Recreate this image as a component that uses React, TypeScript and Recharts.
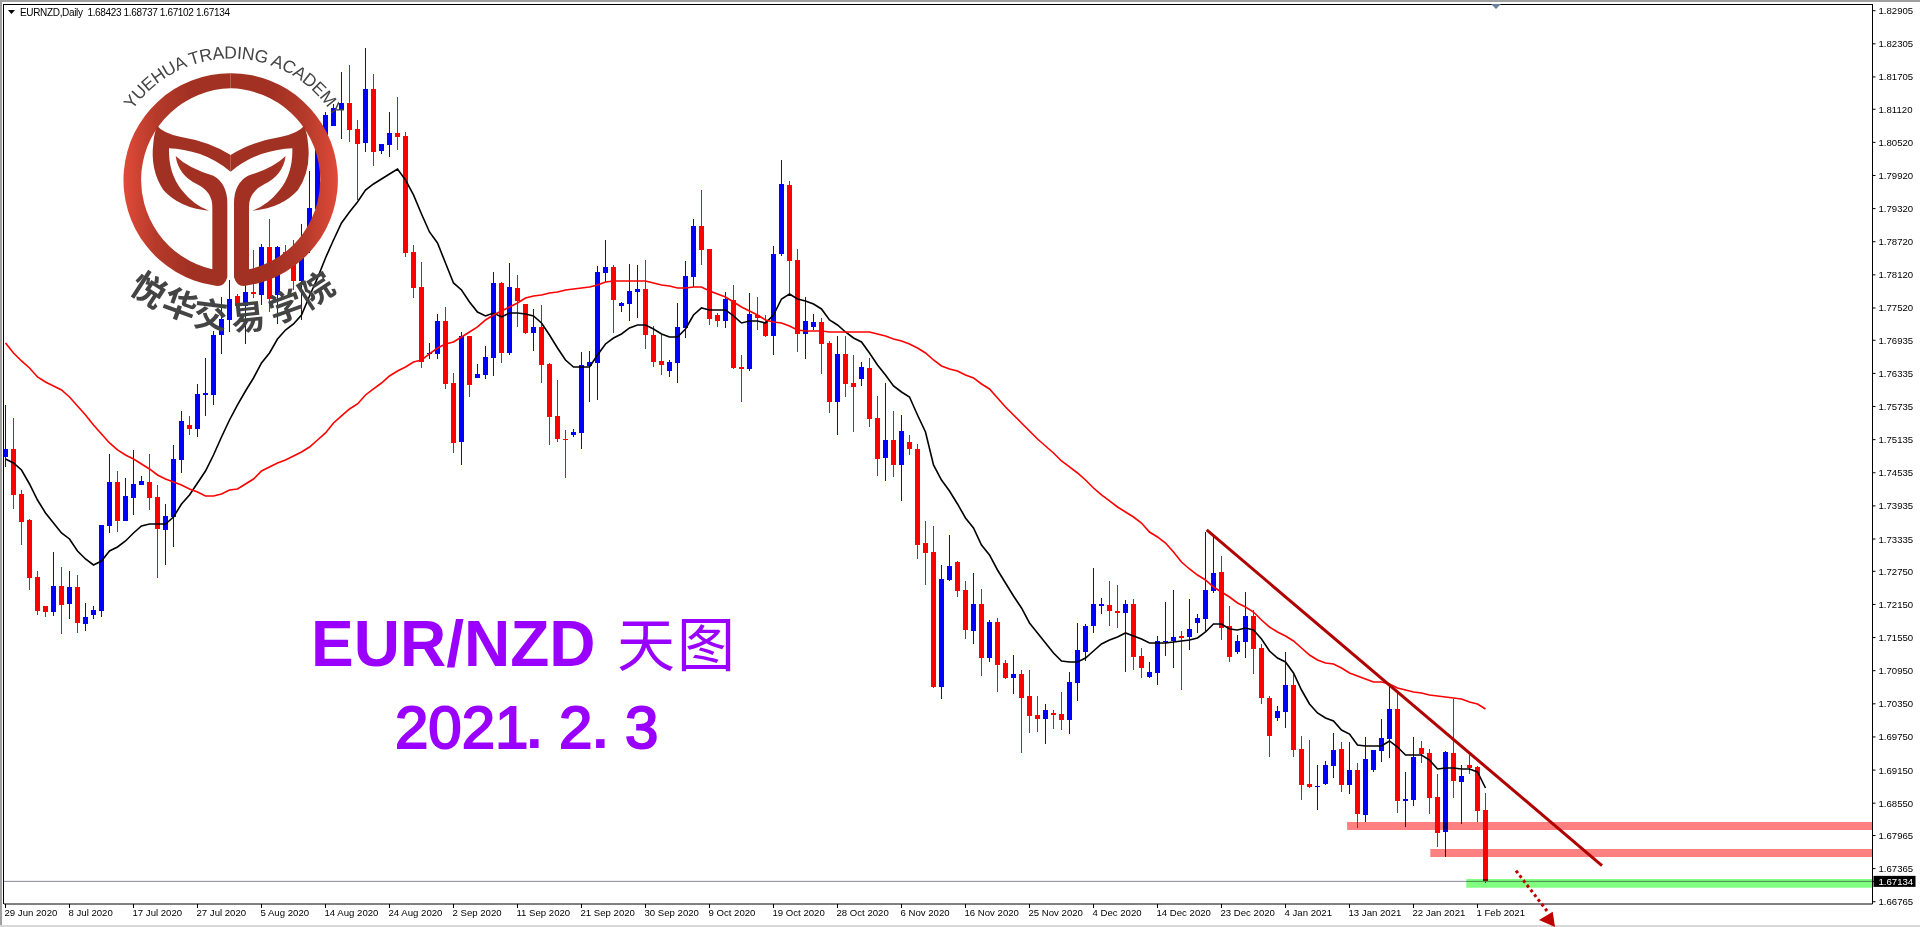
import React from "react";
import { ComposedChart, Bar, Line, XAxis, YAxis, ReferenceLine, ReferenceArea } from "recharts";

const opens = [
1.74821,1.74966,1.74151,1.73680,1.72647,1.72122,1.72013,1.72484,1.72158,1.72466,
1.71796,1.71959,1.72031,1.73571,1.74368,1.73662,1.74078,1.74314,1.74368,1.74096,
1.73499,1.73734,1.74767,1.75401,1.75328,1.75944,1.75944,1.77031,1.77303,1.77737,
1.77556,1.77810,1.77755,1.78625,1.77755,1.78534,1.78534,1.78009,1.78987,1.79313,
1.80654,1.80817,1.81106,1.81233,1.80762,1.80509,1.81487,1.80364,1.80472,1.80690,
1.80635,1.78534,1.77900,1.76687,1.76687,1.77284,1.76161,1.75093,1.77013,1.76252,
1.76306,1.76614,1.77973,1.76705,1.77882,1.77592,1.77067,1.77176,1.76506,1.75564,
1.75147,1.75219,1.75256,1.76469,1.76524,1.78154,1.78263,1.77556,1.77592,1.77810,
1.77864,1.77031,1.76560,1.76379,1.76524,1.77158,1.78081,1.79005,1.78589,1.77393,
1.77284,1.77665,1.76451,1.76415,1.77393,1.77266,1.77013,1.78498,1.79748,1.78389,
1.77049,1.77176,1.77266,1.76886,1.75817,1.76687,1.76161,1.76234,1.76433,1.75527,
1.74803,1.75129,1.74676,1.75093,1.74966,1.73263,1.73100,1.70655,1.72593,1.72919,
1.72412,1.71669,1.72158,1.71180,1.71832,1.71089,1.70818,1.70890,1.70492,1.70147,
1.70075,1.70184,1.70166,1.70057,1.70727,1.71289,1.71760,1.72122,1.72140,1.72031,
1.71995,1.72158,1.71216,1.70836,1.70908,1.71470,1.71488,1.71579,1.71560,1.71814,
1.71886,1.72394,1.72738,1.71760,1.71289,1.71470,1.71941,1.71361,1.70455,1.70093,
1.70202,1.70691,1.69532,1.68898,1.68843,1.68898,1.69224,1.69532,1.68880,1.69151,
1.68336,1.69151,1.69495,1.69713,1.70256,1.68590,1.68608,1.69550,1.69459,1.68662,
1.68028,1.69459,1.68934,1.69242,1.69206,1.68423];

const highs = [
1.75763,1.75527,1.74223,1.73698,1.72756,1.72122,1.73100,1.72828,1.72756,1.72683,
1.72176,1.72122,1.73589,1.74875,1.74567,1.74441,1.74948,1.74477,1.74875,1.74314,
1.73970,1.75038,1.75654,1.75564,1.76143,1.76614,1.77103,1.77719,1.78027,1.77773,
1.77937,1.78570,1.78679,1.79132,1.78643,1.78661,1.78752,1.79041,1.80002,1.80563,
1.81070,1.81215,1.81795,1.81922,1.80925,1.82230,1.81759,1.80491,1.81070,1.81342,
1.80708,1.78661,1.78353,1.76886,1.77411,1.77538,1.76342,1.77085,1.77013,1.76506,
1.76832,1.78172,1.77991,1.78335,1.78118,1.77592,1.77502,1.77574,1.76524,1.76216,
1.75310,1.75328,1.76723,1.76741,1.78281,1.78752,1.78299,1.77629,1.78317,1.78299,
1.78389,1.77194,1.77049,1.76578,1.77610,1.78371,1.79132,1.79657,1.78589,1.77429,
1.77810,1.77937,1.76669,1.77792,1.77719,1.77393,1.78643,1.80201,1.79820,1.78589,
1.77719,1.77411,1.77339,1.76922,1.77013,1.77013,1.76669,1.76542,1.76614,1.75926,
1.76161,1.75654,1.75582,1.75219,1.75056,1.73662,1.73571,1.72865,1.73408,1.72937,
1.72575,1.72720,1.72430,1.71868,1.71905,1.71144,1.71234,1.70963,1.70963,1.70492,
1.70347,1.70238,1.70564,1.70926,1.71814,1.71796,1.72810,1.72267,1.72575,1.72502,
1.72231,1.72249,1.71361,1.71108,1.71579,1.72194,1.72412,1.71669,1.72249,1.71977,
1.73462,1.73408,1.73028,1.72122,1.71597,1.72376,1.72049,1.71434,1.70492,1.70311,
1.71289,1.70890,1.69767,1.69695,1.69242,1.69314,1.69821,1.69658,1.69658,1.69278,
1.69749,1.69513,1.70075,1.70691,1.70600,1.69115,1.69749,1.69677,1.69532,1.69079,
1.69495,1.70437,1.69242,1.69423,1.69224,1.68737];

const lows = [
1.74640,1.73879,1.73227,1.72412,1.71959,1.71923,1.71941,1.71615,1.71886,1.71633,
1.71669,1.71886,1.71923,1.73444,1.73462,1.73662,1.73770,1.74314,1.73861,1.72629,
1.72865,1.73191,1.74531,1.75219,1.75183,1.75564,1.75763,1.76687,1.77085,1.77556,
1.76868,1.77701,1.77574,1.77447,1.77230,1.78299,1.77846,1.77303,1.78516,1.79259,
1.80563,1.80817,1.80581,1.80527,1.79476,1.80346,1.80092,1.80309,1.80255,1.80382,
1.78444,1.77701,1.76433,1.76596,1.76596,1.76053,1.74893,1.74676,1.75908,1.76252,
1.76234,1.76288,1.76524,1.76669,1.77176,1.77049,1.76741,1.76161,1.75038,1.75093,
1.74441,1.75183,1.74966,1.75817,1.75853,1.77991,1.77067,1.77447,1.77284,1.77339,
1.76777,1.76451,1.76306,1.76270,1.76161,1.76976,1.77900,1.78299,1.77212,1.77176,
1.77158,1.76415,1.75817,1.76379,1.77121,1.76995,1.76669,1.78462,1.77773,1.76723,
1.76596,1.77121,1.76324,1.75618,1.75219,1.75908,1.75274,1.76107,1.75364,1.74477,
1.74386,1.74459,1.74024,1.74857,1.72973,1.72502,1.70637,1.70437,1.72575,1.72285,
1.71524,1.71434,1.70854,1.71108,1.70564,1.70800,1.70528,1.69459,1.69821,1.69840,
1.69622,1.69894,1.69876,1.69803,1.70401,1.71126,1.71633,1.71977,1.71760,1.71723,
1.70926,1.70963,1.70818,1.70818,1.70691,1.71216,1.70999,1.70600,1.71325,1.71633,
1.71669,1.72357,1.71506,1.71108,1.71252,1.71180,1.70890,1.70347,1.69387,1.70039,
1.69912,1.69387,1.68608,1.68825,1.68427,1.68880,1.69006,1.68753,1.68716,1.68101,
1.68209,1.69115,1.69296,1.69369,1.68372,1.68119,1.68499,1.69278,1.68354,1.67756,
1.67575,1.68644,1.68173,1.69079,1.68209,1.67102];

const closes = [
1.74966,1.74133,1.73643,1.72629,1.72031,1.72013,1.72484,1.72140,1.72466,1.71814,
1.71923,1.72049,1.73589,1.74368,1.73662,1.74114,1.74332,1.74386,1.74078,1.73517,
1.73752,1.74785,1.75473,1.75328,1.75962,1.75980,1.77031,1.77321,1.77683,1.77556,
1.77810,1.77773,1.78625,1.77683,1.78625,1.78498,1.78009,1.78426,1.79331,1.80436,
1.81016,1.81143,1.81233,1.80744,1.80491,1.81487,1.80346,1.80491,1.80690,1.80617,
1.78516,1.77882,1.76542,1.76705,1.77284,1.76143,1.75075,1.77013,1.76125,1.76324,
1.76632,1.77973,1.76705,1.77900,1.77647,1.77067,1.77176,1.76487,1.75545,1.75147,
1.75129,1.75274,1.76487,1.76542,1.78172,1.78263,1.77665,1.77610,1.77828,1.77864,
1.77031,1.76542,1.76487,1.76542,1.77176,1.78099,1.79005,1.78570,1.77321,1.77284,
1.77683,1.76433,1.76415,1.77411,1.77339,1.77013,1.78498,1.79766,1.78371,1.77049,
1.77284,1.77266,1.76868,1.75817,1.76687,1.76143,1.76089,1.76451,1.75509,1.74785,
1.75129,1.74676,1.75292,1.74966,1.73227,1.73082,1.70655,1.72611,1.72847,1.72394,
1.71687,1.72158,1.71180,1.71832,1.71053,1.70818,1.70890,1.70455,1.70129,1.70075,
1.70238,1.70147,1.70057,1.70745,1.71325,1.71760,1.72158,1.72158,1.72031,1.71995,
1.72158,1.71198,1.70999,1.70926,1.71488,1.71488,1.71560,1.71542,1.71705,1.71905,
1.72412,1.72720,1.71723,1.71198,1.71488,1.71941,1.71343,1.70455,1.69767,1.70220,
1.70691,1.69513,1.68880,1.68843,1.68861,1.69242,1.69513,1.68880,1.69151,1.68354,
1.69350,1.69513,1.69731,1.70256,1.68590,1.68626,1.69387,1.69441,1.68644,1.68010,
1.69477,1.68952,1.69043,1.69187,1.68409,1.67134];

const maBlack = [
1.74785,1.74712,1.74585,1.74332,1.74042,1.73807,1.73625,1.73444,1.73336,1.73118,
1.72973,1.72865,1.72937,1.73118,1.73191,1.73299,1.73444,1.73571,1.73607,1.73607,
1.73607,1.73734,1.73970,1.74133,1.74350,1.74567,1.74857,1.75183,1.75491,1.75763,
1.76016,1.76252,1.76524,1.76705,1.76958,1.77121,1.77230,1.77393,1.77737,1.78063,
1.78426,1.78752,1.79060,1.79259,1.79440,1.79657,1.79766,1.79857,1.79947,1.80038,
1.79838,1.79567,1.79223,1.78897,1.78697,1.78335,1.77973,1.77846,1.77629,1.77447,
1.77375,1.77429,1.77357,1.77429,1.77429,1.77411,1.77375,1.77248,1.77031,1.76795,
1.76578,1.76451,1.76451,1.76451,1.76669,1.76868,1.76976,1.77049,1.77158,1.77212,
1.77212,1.77139,1.77049,1.76995,1.76995,1.77139,1.77393,1.77520,1.77484,1.77484,
1.77484,1.77375,1.77248,1.77284,1.77284,1.77248,1.77393,1.77683,1.77773,1.77683,
1.77647,1.77592,1.77502,1.77303,1.77212,1.77085,1.76976,1.76904,1.76705,1.76487,
1.76306,1.76107,1.75998,1.75908,1.75582,1.75274,1.74676,1.74404,1.74205,1.73970,
1.73716,1.73535,1.73227,1.73046,1.72774,1.72539,1.72303,1.72086,1.71814,1.71633,
1.71452,1.71271,1.71126,1.71108,1.71108,1.71180,1.71307,1.71434,1.71506,1.71560,
1.71633,1.71579,1.71524,1.71452,1.71452,1.71452,1.71470,1.71488,1.71506,1.71542,
1.71651,1.71796,1.71796,1.71705,1.71687,1.71723,1.71687,1.71524,1.71307,1.71180,
1.71108,1.70908,1.70600,1.70347,1.70184,1.70093,1.70039,1.69876,1.69803,1.69604,
1.69586,1.69586,1.69586,1.69677,1.69568,1.69423,1.69423,1.69423,1.69332,1.69169,
1.69187,1.69187,1.69169,1.69169,1.69115,1.68825];

const maRed = [
1.76886,1.76705,1.76560,1.76433,1.76270,1.76179,1.76107,1.76035,1.75908,1.75745,
1.75582,1.75401,1.75238,1.75075,1.74948,1.74857,1.74785,1.74694,1.74604,1.74495,
1.74422,1.74368,1.74314,1.74241,1.74187,1.74114,1.74114,1.74151,1.74223,1.74241,
1.74332,1.74422,1.74567,1.74640,1.74712,1.74767,1.74839,1.74911,1.75002,1.75129,
1.75256,1.75437,1.75564,1.75690,1.75781,1.75944,1.76053,1.76161,1.76288,1.76379,
1.76451,1.76542,1.76578,1.76687,1.76795,1.76868,1.76904,1.76995,1.77085,1.77176,
1.77303,1.77393,1.77466,1.77538,1.77610,1.77701,1.77737,1.77755,1.77792,1.77810,
1.77846,1.77864,1.77882,1.77900,1.77937,1.77991,1.78009,1.78009,1.78009,1.78009,
1.78009,1.77973,1.77937,1.77918,1.77882,1.77882,1.77900,1.77900,1.77828,1.77773,
1.77719,1.77629,1.77538,1.77466,1.77393,1.77303,1.77266,1.77248,1.77194,1.77121,
1.77103,1.77103,1.77103,1.77085,1.77085,1.77085,1.77085,1.77085,1.77085,1.77049,
1.77013,1.76958,1.76922,1.76868,1.76795,1.76705,1.76578,1.76469,1.76415,1.76379,
1.76306,1.76252,1.76143,1.76053,1.75890,1.75727,1.75582,1.75437,1.75292,1.75147,
1.75020,1.74893,1.74748,1.74640,1.74531,1.74404,1.74259,1.74133,1.74024,1.73915,
1.73825,1.73734,1.73625,1.73462,1.73372,1.73263,1.73100,1.72919,1.72792,1.72683,
1.72593,1.72466,1.72376,1.72285,1.72176,1.72104,1.72013,1.71868,1.71741,1.71651,
1.71579,1.71488,1.71361,1.71234,1.71144,1.71089,1.71071,1.70999,1.70908,1.70854,
1.70800,1.70745,1.70745,1.70709,1.70637,1.70600,1.70564,1.70546,1.70510,1.70492,
1.70473,1.70455,1.70437,1.70383,1.70347,1.70256];

const dateLabels = ["29 Jun 2020","8 Jul 2020","17 Jul 2020","27 Jul 2020","5 Aug 2020","14 Aug 2020","24 Aug 2020","2 Sep 2020","11 Sep 2020","21 Sep 2020","30 Sep 2020","9 Oct 2020","19 Oct 2020","28 Oct 2020","6 Nov 2020","16 Nov 2020","25 Nov 2020","4 Dec 2020","14 Dec 2020","23 Dec 2020","4 Jan 2021","13 Jan 2021","22 Jan 2021","1 Feb 2021"];
const priceTicks = [1.82905,1.82305,1.81705,1.81120,1.80520,1.79920,1.79320,1.78720,1.78120,1.77520,1.76935,1.76335,1.75735,1.75135,1.74535,1.73935,1.73335,1.72750,1.72150,1.71550,1.70950,1.70350,1.69750,1.69150,1.68550,1.67965,1.67365,1.66765];
const lastClose = 1.67134;
const header = "EURNZD,Daily  1.68423 1.68737 1.67102 1.67134";

const rows = closes.map((c, i) => ({ i, open: opens[i], high: highs[i], low: lows[i], close: c, maBlack: maBlack[i], maRed: maRed[i] }));
const tickIndexes = dateLabels.map((_, k) => k * 8);

const UI_FONT = "'Liberation Sans', Arial, sans-serif";
const UP = "#0000ff";
const DOWN = "#ff0000";

function Candle(props: any) {
  const { x, y, width, height, payload } = props;
  const { open, high, low, close } = payload;
  const color = close >= open ? UP : DOWN;
  const k = height / (high - low || 1);
  const cx = x + width / 2;
  const top = Math.round(y + (high - Math.max(open, close)) * k);
  const bottom = Math.round(y + (high - Math.min(open, close)) * k);
  return (
    <g>
      <rect x={Math.floor(cx)} y={Math.round(y)} width={1} height={Math.max(1, Math.round(height))} fill={color} />
      <rect x={Math.floor(cx) - 2} y={top} width={5} height={Math.max(1, bottom - top)} fill={color} />
    </g>
  );
}

function PriceTick(props: any) {
  const { x, y, payload } = props;
  const isLast = payload.value === lastClose;
  return (
    <g>
      {isLast && <rect x={x - 2} y={y - 5.5} width={42} height={11} fill="#000" />}
      <text x={x + 3} y={y + 3.5} fontSize={9.6} fontFamily={UI_FONT} fill={isLast ? "#fff" : "#000"}>{payload.value.toFixed(5)}</text>
    </g>
  );
}

function DateTick(props: any) {
  const { x, y, payload } = props;
  return (
    <text x={x - 1} y={y + 8} fontSize={9.6} fontFamily={UI_FONT} fill="#000">{dateLabels[payload.value / 8]}</text>
  );
}

const blend: React.CSSProperties = { mixBlendMode: "multiply" };

function Logo() {
  const half = (
    <>
      <path d="M692,220 A320,320 0 0 0 640,856 Q672,866 682,832 L682,610 Q682,550 640,527 Q565,505 527,468 Q535,525 590,552 Q637,575 637,620 L637,808 A275,275 0 0 1 692,265 Z" fill="url(#ringGrad)" />
      <path d="M472,378 Q490,400 540,410 Q630,425 692,465 L692,515 Q650,480 600,462 Q550,447 507,445 Q505,520 545,570 Q580,615 627,632 Q540,625 490,570 Q450,510 460,430 Q462,400 472,378 Z" fill="#a13122" />
    </>
  );
  const zh = [
    { c: "悦", x: 150, y: 288, r: 33 },
    { c: "华", x: 181, y: 303, r: 20 },
    { c: "交", x: 211, y: 313, r: 7 },
    { c: "易", x: 248, y: 315, r: -6 },
    { c: "学", x: 285, y: 305, r: -20 },
    { c: "院", x: 315, y: 288, r: -33 },
  ];
  return (
    <g>
      <defs>
        <linearGradient id="ringGrad" gradientUnits="userSpaceOnUse" x1={372} x2={692} y1={0} y2={0}>
          <stop offset="0" stopColor="#e04a38" />
          <stop offset="0.3" stopColor="#b53a2a" />
          <stop offset="0.6" stopColor="#a33123" />
          <stop offset="1" stopColor="#a13122" />
        </linearGradient>
        <path id="logoArc" d="M132.5,110 A120,120 0 0 1 331.5,113" fill="none" />
      </defs>
      <g transform="scale(0.33333)">
        {half}
        <g transform="translate(1384,0) scale(-1,1)">{half}</g>
      </g>
      <text fontFamily={UI_FONT} fontSize={17.5} fill="#444">
        <textPath href="#logoArc" textLength={240} lengthAdjust="spacing">YUEHUA TRADING ACADEMY</textPath>
      </text>
      {zh.map((z) => (
        <text key={z.c} x={z.x} y={z.y} fontFamily="'Noto Sans CJK SC'" fontWeight={700} fontSize={34} fill="#444" textAnchor="middle" dominantBaseline="central" transform={`rotate(${z.r} ${z.x} ${z.y})`}>{z.c}</text>
      ))}
    </g>
  );
}

function Overlay() {
  const purple = "#9900ff";
  const big = { fontFamily: UI_FONT, fontWeight: 700, fill: purple };
  const date = { fontFamily: UI_FONT, fontWeight: 400, fill: purple, stroke: purple, strokeWidth: 2 };
  return (
    <svg width={1920} height={927} style={{ position: "absolute", left: 0, top: 0, pointerEvents: "none" }}>
      <path d="M8,10 L15,10 L11.5,14 Z" fill="#000" />
      <text x={20} y={16} fontSize={10} fontFamily={UI_FONT} fill="#000" xmlSpace="preserve" textLength={210}>{header}</text>
      <path d="M1491,4 L1501,4 L1496,9 Z" fill="#6d7f99" />
      <text x={311} y={666} fontSize={64} {...big}>EUR/NZD</text>
      <text x={617} y={666} fontSize={58} fontFamily="'Noto Sans CJK SC'" fill={purple}>天</text>
      <text x={677} y={666} fontSize={58} fontFamily="'Noto Sans CJK SC'" fill={purple}>图</text>
      <text x={395} y={748} fontSize={60} {...date}>2021</text>
      <text x={526} y={748} fontSize={60} {...big}>.</text>
      <text x={559} y={748} fontSize={60} {...date}>2</text>
      <text x={592} y={748} fontSize={60} {...big}>.</text>
      <text x={625} y={748} fontSize={60} {...date}>3</text>
      <line x1={1516} y1={870.7} x2={1547} y2={911} stroke="#c00000" strokeWidth={3} strokeDasharray="3 3" />
      <path d="M1552.7,911.7 L1539,920 L1555,927 Z" fill="#c00000" />
      <Logo />
    </svg>
  );
}

export default function App() {
  const top = { zIndex: 450 } as any;
  return (
    <div style={{ position: "absolute", left: 0, top: 0, width: 1920, height: 927, overflow: "hidden", background: "#fff" }}>
      <div style={{ position: "absolute", left: 0, top: 0, width: 1920, height: 2, background: "#a0a0a0" }} />
      <div style={{ position: "absolute", left: 0, top: 0, width: 2, height: 927, background: "#a0a0a0" }} />
      <div style={{ position: "absolute", left: 0, top: 925, width: 1920, height: 2, background: "#d8d8d8" }} />
      <div style={{ position: "absolute", left: 3, top: 4, width: 1870, height: 1, background: "#000" }} />
      <div style={{ position: "absolute", left: 3, top: 4, width: 1, height: 900, background: "#000" }} />
      <ComposedChart
        width={1920}
        height={927}
        data={rows}
        margin={{ top: 4.5, left: 4, right: 0, bottom: 0 }}
        style={{ position: "absolute", left: 0, top: 0 }}
      >
        <XAxis
          dataKey="i"
          type="number"
          domain={[-0.1875, 233.375]}
          ticks={tickIndexes}
          interval={0}
          height={23}
          allowDataOverflow
          tickSize={4}
          tickMargin={0}
          stroke="#000"
          tick={<DateTick />}
        />
        <YAxis
          orientation="right"
          type="number"
          domain={[1.66724, 1.83017]}
          ticks={[...priceTicks, lastClose]}
          interval={0}
          width={47.5}
          allowDataOverflow
          tickSize={3}
          tickMargin={0}
          stroke="#000"
          tick={<PriceTick />}
        />
        <ReferenceLine y={lastClose} stroke="#8a8a9a" strokeWidth={1} />
        <Bar dataKey={(d: any) => [d.low, d.high]} barSize={5} shape={<Candle />} isAnimationActive={false} />
        <Line dataKey="maBlack" stroke="#000" strokeWidth={1.6} dot={false} isAnimationActive={false} />
        <Line dataKey="maRed" stroke="#ff0000" strokeWidth={1.6} dot={false} isAnimationActive={false} />
        <ReferenceArea {...top} x1={167.7} x2={233.375} y1={1.68064} y2={1.68209} fill="#ff8080" fillOpacity={1} stroke="none" style={blend} />
        <ReferenceArea {...top} x1={178.1} x2={233.375} y1={1.67575} y2={1.67720} fill="#ff8080" fillOpacity={1} stroke="none" style={blend} />
        <ReferenceArea {...top} x1={182.6} x2={233.375} y1={1.67019} y2={1.67177} fill="#80ff80" fillOpacity={1} stroke="none" style={blend} />
        <ReferenceLine {...top} segment={[{ x: 150.15, y: 1.73499 }, { x: 199.56, y: 1.67421 }]} stroke="#b00000" strokeWidth={3} />
      </ComposedChart>
      <Overlay />
    </div>
  );
}
